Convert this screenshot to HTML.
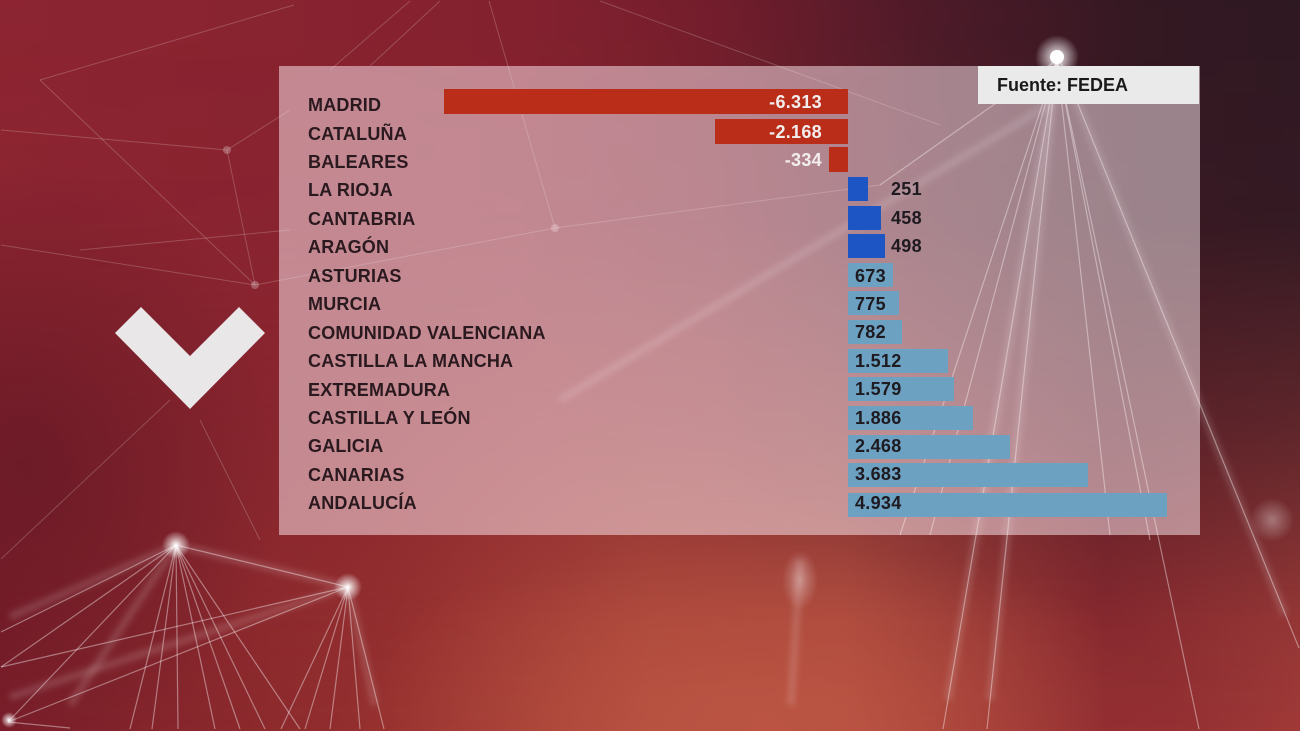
<!DOCTYPE html>
<html><head><meta charset="utf-8">
<style>
html,body{margin:0;padding:0;width:1300px;height:731px;overflow:hidden;}
body{position:relative;background:#84202c;font-family:"Liberation Sans",Arial,sans-serif;}
svg.bg{position:absolute;left:0;top:0;display:block;overflow:hidden;}
.panel{position:absolute;left:279px;top:66px;width:921px;height:469px;background:rgba(255,238,243,0.5);}
.src{position:absolute;left:978px;top:66px;width:221px;height:38px;background:#ebeaea;}
.src span{position:absolute;left:19px;top:0;line-height:38px;font-size:18px;font-weight:bold;color:#1b1a1b;white-space:nowrap;}
.lbl{position:absolute;left:308px;font-weight:bold;font-size:18px;letter-spacing:0.2px;color:#2a191e;height:24px;line-height:24px;white-space:nowrap;}
.bar{position:absolute;height:24px;}
.r{background:#ba2e19;height:25px;}
.db{background:#1d55c4;}
.lb{background:#6ca1c1;}
.val{position:absolute;height:24px;line-height:24px;font-size:18px;font-weight:bold;letter-spacing:0.3px;white-space:nowrap;color:#1e1a20;}
.w{color:#f3eeee;right:478px;text-align:right;}
</style></head>
<body>
<svg class="bg" width="1300" height="731" viewBox="0 0 1300 731">
<defs>
<linearGradient id="bot" x1="0" y1="0" x2="1" y2="0">
<stop offset="0" stop-color="#7a1e2a"/>
<stop offset="0.3" stop-color="#95302f"/>
<stop offset="0.5" stop-color="#b04c3d"/>
<stop offset="0.65" stop-color="#b34e3f"/>
<stop offset="0.85" stop-color="#8e2a30"/>
<stop offset="1" stop-color="#a03a38"/>
</linearGradient>
<linearGradient id="top" x1="0" y1="0" x2="1" y2="0">
<stop offset="0" stop-color="#8c2531"/>
<stop offset="0.4" stop-color="#84212f"/>
<stop offset="0.55" stop-color="#721d2c"/>
<stop offset="0.72" stop-color="#4c1a28"/>
<stop offset="0.88" stop-color="#331822"/>
<stop offset="1" stop-color="#2e1822"/>
</linearGradient>
<linearGradient id="mg" x1="0" y1="0" x2="0" y2="1">
<stop offset="0" stop-color="#fff" stop-opacity="1"/>
<stop offset="0.3" stop-color="#fff" stop-opacity="0.95"/>
<stop offset="0.6" stop-color="#fff" stop-opacity="0.55"/>
<stop offset="0.85" stop-color="#fff" stop-opacity="0.1"/>
<stop offset="1" stop-color="#fff" stop-opacity="0"/>
</linearGradient>
<mask id="m"><rect width="1300" height="731" fill="url(#mg)"/></mask>
<radialGradient id="dl" gradientUnits="userSpaceOnUse" cx="30" cy="460" r="280" gradientTransform="translate(30 460) scale(0.93 1.07) translate(-30 -460)">
<stop offset="0" stop-color="#5a1622" stop-opacity="0.55"/>
<stop offset="1" stop-color="#5a1622" stop-opacity="0"/>
</radialGradient>
<radialGradient id="warm" gradientUnits="userSpaceOnUse" cx="760" cy="720" r="420" gradientTransform="translate(760 720) scale(1 0.43) translate(-760 -720)">
<stop offset="0" stop-color="#c25a46" stop-opacity="0.6"/>
<stop offset="1" stop-color="#c25a46" stop-opacity="0"/>
</radialGradient>
<radialGradient id="glow" cx="0.5" cy="0.5" r="0.5">
<stop offset="0" stop-color="#fff" stop-opacity="1"/>
<stop offset="0.35" stop-color="#fff" stop-opacity="0.6"/>
<stop offset="1" stop-color="#fff" stop-opacity="0"/>
</radialGradient>
<radialGradient id="soft" cx="0.5" cy="0.5" r="0.5">
<stop offset="0" stop-color="#fff" stop-opacity="0.35"/>
<stop offset="1" stop-color="#fff" stop-opacity="0"/>
</radialGradient>
<filter id="bl" x="-20%" y="-20%" width="140%" height="140%"><feGaussianBlur stdDeviation="3"/></filter>
<clipPath id="cp"><rect width="1300" height="731"/></clipPath>
</defs>
<g clip-path="url(#cp)">
<rect width="1300" height="731" fill="url(#bot)"/>
<rect width="1300" height="731" fill="url(#top)" mask="url(#m)"/>
<rect width="1300" height="731" fill="url(#dl)"/>
<rect width="1300" height="731" fill="url(#warm)"/>

<g stroke="#fff" stroke-opacity="0.14" stroke-width="8" filter="url(#bl)" fill="none">
<line x1="176" y1="545" x2="348" y2="587"/>
<line x1="348" y1="587" x2="10" y2="697"/>
<line x1="1057" y1="60" x2="948" y2="700"/>
<line x1="1057" y1="60" x2="990" y2="700"/>
<line x1="1060" y1="60" x2="1285" y2="615"/>
<line x1="348" y1="587" x2="375" y2="705"/>
<line x1="176" y1="545" x2="10" y2="617"/>
<line x1="176" y1="545" x2="70" y2="705"/>
<line x1="800" y1="560" x2="791" y2="705"/>
<line x1="1050" y1="104" x2="560" y2="400"/>
</g>

<g stroke="#fff" stroke-opacity="0.2" stroke-width="1" fill="none">
<line x1="294" y1="5" x2="40" y2="80"/>
<line x1="410" y1="1" x2="330" y2="70"/>
<line x1="440" y1="1" x2="370" y2="66"/>
<line x1="489" y1="1" x2="555" y2="228"/>
<line x1="600" y1="1" x2="940" y2="125"/>
<line x1="227" y1="150" x2="255" y2="285"/>
<line x1="1" y1="130" x2="227" y2="150"/>
<line x1="227" y1="150" x2="290" y2="110"/>
<line x1="40" y1="80" x2="255" y2="285"/>
<line x1="1" y1="245" x2="255" y2="285"/>
<line x1="255" y1="285" x2="555" y2="228"/>
<line x1="555" y1="228" x2="880" y2="185"/>
<line x1="170" y1="400" x2="1" y2="559"/>
<line x1="200" y1="420" x2="260" y2="540"/>
<line x1="80" y1="250" x2="290" y2="230"/>
</g>
<g stroke="#fff" stroke-opacity="0.4" stroke-width="1.2" fill="none">
<line x1="1057" y1="60" x2="880" y2="185"/>
<line x1="1057" y1="60" x2="943" y2="729"/>
<line x1="1057" y1="60" x2="987" y2="729"/>
<line x1="1060" y1="60" x2="1299" y2="648"/>
<line x1="1057" y1="60" x2="900" y2="535"/>
<line x1="1057" y1="60" x2="930" y2="535"/>
<line x1="1057" y1="60" x2="1110" y2="535"/>
<line x1="1057" y1="60" x2="1150" y2="540"/>
<line x1="1057" y1="60" x2="1199" y2="729"/>
<line x1="176" y1="545" x2="1" y2="632"/>
<line x1="176" y1="545" x2="1" y2="667"/>
<line x1="176" y1="545" x2="8" y2="722"/>
<line x1="176" y1="545" x2="130" y2="729"/>
<line x1="176" y1="545" x2="152" y2="729"/>
<line x1="176" y1="545" x2="178" y2="729"/>
<line x1="176" y1="545" x2="215" y2="729"/>
<line x1="176" y1="545" x2="240" y2="729"/>
<line x1="176" y1="545" x2="265" y2="729"/>
<line x1="176" y1="545" x2="300" y2="729"/>
<line x1="176" y1="545" x2="348" y2="587"/>
<line x1="348" y1="587" x2="1" y2="667"/>
<line x1="348" y1="587" x2="8" y2="722"/>
<line x1="348" y1="587" x2="281" y2="729"/>
<line x1="348" y1="587" x2="305" y2="729"/>
<line x1="348" y1="587" x2="330" y2="729"/>
<line x1="348" y1="587" x2="360" y2="729"/>
<line x1="348" y1="587" x2="384" y2="729"/>
<line x1="8" y1="722" x2="70" y2="728"/>
</g>
<circle cx="1057" cy="57" r="22" fill="url(#glow)"/>
<circle cx="1057" cy="57" r="7" fill="#fff"/>
<circle cx="176" cy="545" r="14" fill="url(#glow)"/>
<circle cx="348" cy="587" r="14" fill="url(#glow)"/>
<circle cx="9" cy="720" r="8" fill="url(#glow)"/>
<circle cx="227" cy="150" r="4" fill="#fff" fill-opacity="0.25"/>
<circle cx="255" cy="285" r="4" fill="#fff" fill-opacity="0.25"/>
<circle cx="555" cy="228" r="4" fill="#fff" fill-opacity="0.25"/>
<ellipse cx="800" cy="580" rx="18" ry="30" fill="url(#soft)"/>
<circle cx="1272" cy="520" r="22" fill="url(#soft)"/>
<polygon points="115,333 141,307 190,356 239,307 265,333 190,409" fill="#e9e7e8"/>
</g>
</svg>

<div class="panel"></div>
<div class="src"><span>Fuente: FEDEA</span></div>

<div class="lbl" style="top:93px">MADRID</div>
<div class="lbl" style="top:121.5px">CATALUÑA</div>
<div class="lbl" style="top:150px">BALEARES</div>
<div class="lbl" style="top:178.4px">LA RIOJA</div>
<div class="lbl" style="top:206.8px">CANTABRIA</div>
<div class="lbl" style="top:235.3px">ARAGÓN</div>
<div class="lbl" style="top:263.7px">ASTURIAS</div>
<div class="lbl" style="top:292.2px">MURCIA</div>
<div class="lbl" style="top:320.6px">COMUNIDAD VALENCIANA</div>
<div class="lbl" style="top:349px">CASTILLA LA MANCHA</div>
<div class="lbl" style="top:377.5px">EXTREMADURA</div>
<div class="lbl" style="top:406px">CASTILLA Y LEÓN</div>
<div class="lbl" style="top:434.4px">GALICIA</div>
<div class="lbl" style="top:462.9px">CANARIAS</div>
<div class="lbl" style="top:491.3px">ANDALUCÍA</div>

<div class="bar r" style="left:444px;width:404px;top:89px"></div>
<div class="bar r" style="left:715px;width:133px;top:119px"></div>
<div class="bar r" style="left:829px;width:19px;top:147px"></div>
<div class="bar db" style="left:848px;width:20px;top:177px"></div>
<div class="bar db" style="left:848px;width:33px;top:206px"></div>
<div class="bar db" style="left:848px;width:37px;top:234px"></div>
<div class="bar lb" style="left:848px;width:45px;top:263px"></div>
<div class="bar lb" style="left:848px;width:51px;top:291px"></div>
<div class="bar lb" style="left:848px;width:54px;top:320px"></div>
<div class="bar lb" style="left:848px;width:100px;top:349px"></div>
<div class="bar lb" style="left:848px;width:106px;top:377px"></div>
<div class="bar lb" style="left:848px;width:125px;top:406px"></div>
<div class="bar lb" style="left:848px;width:162px;top:435px"></div>
<div class="bar lb" style="left:848px;width:240px;top:463px"></div>
<div class="bar lb" style="left:848px;width:319px;top:493px"></div>

<div class="val w" style="top:90px">-6.313</div>
<div class="val w" style="top:119.5px">-2.168</div>
<div class="val w" style="top:147.5px">-334</div>
<div class="val" style="left:891px;top:177px">251</div>
<div class="val" style="left:891px;top:206px">458</div>
<div class="val" style="left:891px;top:234px">498</div>
<div class="val" style="left:855px;top:263.5px">673</div>
<div class="val" style="left:855px;top:291.5px">775</div>
<div class="val" style="left:855px;top:320px">782</div>
<div class="val" style="left:855px;top:348.5px">1.512</div>
<div class="val" style="left:855px;top:377px">1.579</div>
<div class="val" style="left:855px;top:405.5px">1.886</div>
<div class="val" style="left:855px;top:434px">2.468</div>
<div class="val" style="left:855px;top:462px">3.683</div>
<div class="val" style="left:855px;top:491px">4.934</div>
</body></html>
